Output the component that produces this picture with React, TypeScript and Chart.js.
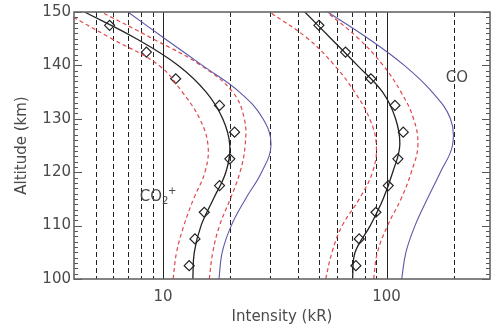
import React, { useEffect, useRef } from 'react';
import { Chart, registerables } from 'chart.js';

Chart.register(...registerables);

// Altitude grid (km) for the model / uncertainty curves
const altitudes = [100, 105, 110, 115, 120, 125, 130, 135, 140, 145, 150];
// Altitudes of the observed points (diamonds)
const obsAltitudes = [102.5, 107.5, 112.5, 117.5, 122.5, 127.5, 132.5, 137.5, 142.5, 147.5];

// CO2+ band (kR)
const co2pModel = [13.6, 13.8, 14.8, 16.8, 19.1, 19.9, 18.5, 15.6, 11.7, 7.6, 4.46];
const co2pLow = [11.1, 11.5, 12.4, 13.7, 15.4, 15.9, 14.6, 12.2, 9.6, 5.9, 3.6];
const co2pHigh = [16.1, 16.7, 17.9, 20.0, 22.1, 23.3, 23.1, 20.5, 14.8, 9.0, 5.3];
const co2pAlt = [17.8, 18.4, 20.2, 23.4, 27.6, 30.4, 28.0, 22.0, 15.0, 10.2, 6.97];
const co2pObs = [13.1, 13.9, 15.3, 17.9, 19.9, 20.9, 17.9, 11.4, 8.43, 5.77];

// CO Cameron band (kR)
const coModel = [70.4, 72.3, 84.5, 96.5, 106.5, 114.5, 109.7, 96, 74, 56.5, 43.1];
const coLow = [53.4, 57, 63.3, 75.5, 86.5, 90, 84, 72, 58.5, 44.5, 30];
const coHigh = [87.5, 91, 101, 116, 129, 138, 132, 116, 96.5, 75, 54];
const coAlt = [116.8, 122, 134, 152, 174, 197, 193, 160, 120, 83, 54.5];
const coObs = [72.9, 75.4, 89.6, 101.7, 112.3, 118.7, 109, 85.1, 65.5, 49.8];

// Axes
const xMin = 4;
const xMax = 290;
const yMin = 100;
const yMax = 150;
const xTickValues = [10, 100];
const yTickValues = [100, 110, 120, 130, 140, 150];
const gridValues = [5, 6, 7, 8, 9, 10, 20, 30, 40, 50, 60, 70, 80, 90, 100, 200];
const solidGridValues = [10, 100];

const xTitle = 'Intensity (kR)';
const yTitle = 'Altitude (km)';

// Curve labels, anchored in data coordinates
const co2pLabel = { x: 7.87, y: 114.7 };
const coLabel = { x: 184, y: 136.8 };

const FONT = "'DejaVu Sans', sans-serif";
const TEXT = '#4a4a4a';

const pts = (xs: number[], ys: number[]) => xs.map((v, i) => ({ x: v, y: ys[i] }));

const decor = {
  id: 'decor',
  beforeDatasetsDraw(chart: any) {
    const { ctx, chartArea: a, scales } = chart;
    const x = scales.x;
    ctx.save();
    ctx.strokeStyle = '#222';
    ctx.lineWidth = 1;
    gridValues.forEach((v) => {
      const px = Math.round(x.getPixelForValue(v)) + 0.5;
      ctx.setLineDash(solidGridValues.includes(v) ? [] : [5, 3]);
      ctx.beginPath();
      ctx.moveTo(px, a.top);
      ctx.lineTo(px, a.bottom);
      ctx.stroke();
    });
    ctx.restore();
  },
  afterDraw(chart: any) {
    const { ctx, chartArea: a, scales } = chart;
    const x = scales.x;
    const y = scales.y;
    ctx.save();
    // minor / major ticks on left and right axes
    ctx.strokeStyle = '#555';
    ctx.lineWidth = 1;
    ctx.setLineDash([]);
    for (let v = yMin; v <= yMax; v += 1) {
      const py = Math.round(y.getPixelForValue(v)) + 0.5;
      const len = v % 10 === 0 ? 8 : 4;
      ctx.beginPath();
      ctx.moveTo(a.left, py);
      ctx.lineTo(a.left + len, py);
      ctx.moveTo(a.right, py);
      ctx.lineTo(a.right - len, py);
      ctx.stroke();
    }
    // frame
    ctx.strokeStyle = '#666';
    ctx.lineWidth = 1.6;
    ctx.strokeRect(a.left, a.top, a.right - a.left, a.bottom - a.top);

    // titles
    ctx.fillStyle = TEXT;
    ctx.font = `15px ${FONT}`;
    ctx.textAlign = 'center';
    ctx.textBaseline = 'middle';
    ctx.fillText(xTitle, (a.left + a.right) / 2, 317);
    ctx.save();
    ctx.translate(22, (a.top + a.bottom) / 2);
    ctx.rotate(-Math.PI / 2);
    ctx.fillText(yTitle, 0, 0);
    ctx.restore();

    // curve labels
    ctx.textAlign = 'left';
    ctx.textBaseline = 'alphabetic';
    const cx = x.getPixelForValue(co2pLabel.x);
    const cy = y.getPixelForValue(co2pLabel.y);
    ctx.font = `15px ${FONT}`;
    ctx.fillText('CO', cx, cy);
    const w = ctx.measureText('CO').width;
    ctx.font = `10px ${FONT}`;
    ctx.fillText('2', cx + w, cy + 3);
    ctx.fillText('+', cx + w + 6, cy - 7);

    ctx.font = `15px ${FONT}`;
    ctx.fillText('CO', x.getPixelForValue(coLabel.x), y.getPixelForValue(coLabel.y));
    ctx.restore();
  },
};

export default function App() {
  const ref = useRef<HTMLCanvasElement>(null);
  useEffect(() => {
    if (!ref.current) return;
    Chart.defaults.font.family = FONT;
    Chart.defaults.font.size = 15;
    Chart.defaults.color = TEXT;
    const black = '#222';
    const red = '#e0474c';
    const blue = '#5b58a8';
    const line = (data: any, color: string, dash: number[], width: number) => ({
      data,
      borderColor: color,
      borderWidth: width,
      borderDash: dash,
      pointRadius: 0,
      showLine: true,
      tension: 0.4,
      fill: false,
    });
    const chart = new Chart(ref.current, {
      type: 'scatter',
      data: {
        datasets: [
          line(pts(co2pAlt, altitudes), blue, [], 1.1),
          line(pts(co2pLow, altitudes), red, [4, 3], 1.2),
          line(pts(co2pHigh, altitudes), red, [4, 3], 1.2),
          line(pts(co2pModel, altitudes), black, [], 1.3),
          line(pts(coAlt, altitudes), blue, [], 1.1),
          line(pts(coLow, altitudes), red, [4, 3], 1.2),
          line(pts(coHigh, altitudes), red, [4, 3], 1.2),
          line(pts(coModel, altitudes), black, [], 1.3),
          {
            data: pts(co2pObs, obsAltitudes),
            showLine: false,
            pointStyle: 'rectRot',
            pointRadius: 5,
            borderColor: black,
            borderWidth: 1.2,
            backgroundColor: 'rgba(0,0,0,0)',
          },
          {
            data: pts(coObs, obsAltitudes),
            showLine: false,
            pointStyle: 'rectRot',
            pointRadius: 5,
            borderColor: black,
            borderWidth: 1.2,
            backgroundColor: 'rgba(0,0,0,0)',
          },
        ] as any,
      },
      options: {
        animation: false,
        responsive: false,
        devicePixelRatio: 1,
        layout: { autoPadding: false, padding: { top: 11, right: 2, left: 0, bottom: 0 } },
        plugins: { legend: { display: false }, tooltip: { enabled: false } },
        scales: {
          x: {
            type: 'logarithmic',
            min: xMin,
            max: xMax,
            grid: { display: false, drawTicks: false },
            border: { display: false },
            afterBuildTicks: (s: any) => {
              s.ticks = xTickValues.map((v) => ({ value: v }));
            },
            afterFit: (s: any) => {
              s.height = 50;
            },
            ticks: {
              padding: 9,
              maxRotation: 0,
              autoSkip: false,
              callback: (v: any) => String(v),
            },
          },
          y: {
            type: 'linear',
            min: yMin,
            max: yMax,
            grid: { display: false, drawTicks: false },
            border: { display: false },
            afterBuildTicks: (s: any) => {
              s.ticks = yTickValues.map((v) => ({ value: v }));
            },
            afterFit: (s: any) => {
              s.width = 74;
            },
            ticks: { padding: 3, callback: (v: any) => String(v) },
          },
        },
      } as any,
      plugins: [decor],
    });
    return () => chart.destroy();
  }, []);
  return (
    <div style={{ position: 'absolute', left: 0, top: 0, width: 492, height: 329, background: '#fff' }}>
      <canvas ref={ref} width={492} height={329} />
    </div>
  );
}
